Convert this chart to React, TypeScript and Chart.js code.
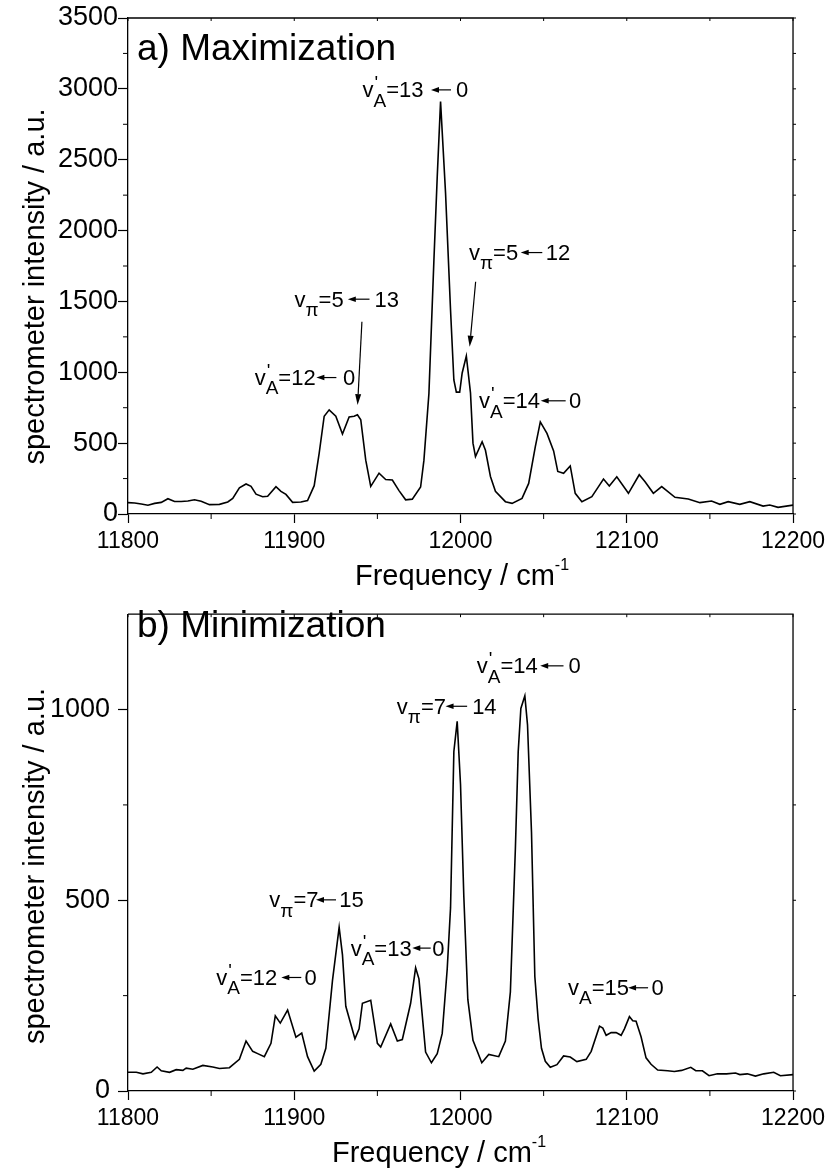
import React, { useEffect, useRef } from "react";
import { Chart, registerables } from "chart.js";

Chart.register(...registerables);

const FONT = "'Liberation Sans', Arial, Helvetica, sans-serif";

// ---------- data: panel a (maximization) ----------
const freqA = [11800, 11804, 11808, 11812, 11816, 11820, 11824, 11828, 11832, 11836, 11840, 11844, 11849, 11855, 11860, 11863, 11867, 11871, 11874, 11877, 11881, 11884, 11889, 11892, 11895, 11899, 11904, 11908, 11912, 11915, 11918, 11921, 11925, 11929, 11933, 11936, 11938, 11940, 11943, 11946, 11951, 11955, 11959, 11963, 11967, 11971, 11976, 11978, 11981, 11984, 11986, 11988, 11991, 11994, 11996, 11997.5, 11999.5, 12001, 12003.5, 12006, 12007.5, 12009, 12013, 12015, 12018, 12021, 12027, 12031, 12037, 12041, 12045, 12048, 12052, 12056, 12058.5, 12062, 12066, 12069, 12073, 12079, 12083, 12086, 12089.5, 12094, 12101, 12107.5, 12111, 12116, 12121, 12129, 12137, 12144, 12151, 12156, 12161, 12168, 12174, 12182, 12186, 12191, 12200];
const intensityA = [80, 78, 70, 62, 75, 82, 108, 88, 88, 92, 100, 90, 66, 68, 85, 110, 185, 212, 195, 140, 122, 125, 193, 160, 138, 82, 85, 95, 200, 430, 690, 735, 690, 565, 685, 690, 700, 665, 380, 195, 288, 243, 240, 165, 100, 105, 190, 380, 850, 1790, 2380, 2910, 2265, 1440, 946, 860, 860, 995, 1115, 855, 500, 405, 510, 450, 265, 160, 87, 75, 110, 216, 475, 650, 569, 445, 300, 287, 339, 146, 87, 122, 193, 247, 198, 263, 146, 277, 228, 146, 193, 118, 106, 80, 92, 68, 87, 68, 87, 56, 63, 47, 63];

// ---------- data: panel b (minimization) ----------
const freqB = [11800, 11805, 11809, 11814, 11817.5, 11820, 11825, 11829, 11833, 11835, 11839, 11845, 11851, 11855, 11861, 11867, 11871, 11875, 11878, 11882, 11886, 11888.6, 11891.6, 11896, 11901, 11904.5, 11908, 11912, 11916, 11919, 11923, 11927, 11929, 11931, 11936.5, 11939, 11941, 11946, 11950, 11952, 11958, 11962, 11965, 11970, 11973, 11975, 11979, 11982.5, 11986, 11989, 11992, 11994, 11996, 11998, 12000, 12002, 12004.4, 12007.5, 12012.8, 12017, 12023, 12027, 12030, 12033, 12034.7, 12036.3, 12038.7, 12040.3, 12042.7, 12044.7, 12046.7, 12048.7, 12051, 12054, 12058, 12062, 12066, 12070, 12075.6, 12078.6, 12083.6, 12085.6, 12087.6, 12090.6, 12093.6, 12096.6, 12098.6, 12101.6, 12103.6, 12105.6, 12108.6, 12111.6, 12114.6, 12118.6, 12124.6, 12128.6, 12133, 12138.5, 12141.5, 12145.5, 12149.5, 12154.5, 12160, 12165.4, 12168, 12172.5, 12177.4, 12182.4, 12188.4, 12192.4, 12200];
const intensityB = [49, 49, 45, 49, 63, 53, 49, 56, 54, 60, 57, 67, 63, 59, 61, 83, 131, 104, 98, 90, 125, 197, 178, 212, 141, 152, 90, 52, 70, 112, 290, 429, 357, 222, 137, 163, 230, 238, 125, 115, 176, 131, 135, 230, 323, 294, 102, 74, 98, 151, 320, 480, 890, 969, 804, 509, 240, 133, 74, 96, 90, 131, 260, 635, 889, 1003, 1036, 960, 678, 300, 188, 112, 78, 62, 69, 92, 89, 77, 83, 104, 170, 165, 146, 153, 153, 146, 163, 195, 184, 183, 142, 87, 70, 55, 53, 51, 54, 62, 53, 53, 40, 45, 45, 47, 43, 45, 39, 45, 49, 40, 43];

// ---------- ticks ----------
const xTickValues = [11800, 11900, 12000, 12100, 12200];
const xMinorTicks = [11850, 11950, 12050, 12150];
const yTicksA = [0, 500, 1000, 1500, 2000, 2500, 3000, 3500];
const yMinorA = [250, 750, 1250, 1750, 2250, 2750, 3250];
const yTicksB = [0, 500, 1000];
const yMinorB = [250, 750];

// ---------- annotations (anchor in data coords; a0/a1/t are px offsets from anchor) ----------
type Ann = { x: number; y: number; sub: string; prime: boolean; rest: string; tail: string; a0: number; a1: number; t: number };
type Pointer = { x0: number; y0: number; x1: number; y1: number };

const annotationsA: Ann[] = [
  { x: 11941.1, y: 2940, sub: "A", prime: true, rest: "=13", tail: "0", a0: 68.4, a1: 88.4, t: 93.4 },
  { x: 12005.1, y: 1792, sub: "π", prime: false, rest: "=5", tail: "12", a0: 51.7, a1: 73.3, t: 76.7 },
  { x: 11900.15, y: 1463, sub: "π", prime: false, rest: "=5", tail: "13", a0: 53.3, a1: 75, t: 80 },
  { x: 11876.2, y: 910, sub: "A", prime: true, rest: "=12", tail: "0", a0: 61.7, a1: 81.7, t: 88.3 },
  { x: 12011.1, y: 746, sub: "A", prime: true, rest: "=14", tail: "0", a0: 61.7, a1: 86.7, t: 90 },
];
const pointersA: Pointer[] = [
  { x0: 11940.7, y0: 1357, x1: 11938.1, y1: 769 },
  { x0: 12009.1, y0: 1639, x1: 12005.5, y1: 1180 },
];
const annotationsB: Ann[] = [
  { x: 12009.8, y: 1095, sub: "A", prime: true, rest: "=14", tail: "0", a0: 63.4, a1: 86.7, t: 91.7 },
  { x: 11961.7, y: 989, sub: "π", prime: false, rest: "=7", tail: "14", a0: 48.7, a1: 70.3, t: 75.3 },
  { x: 11885.0, y: 481.5, sub: "π", prime: false, rest: "=7", tail: "15", a0: 46.7, a1: 66.7, t: 70 },
  { x: 11933.95, y: 355, sub: "A", prime: true, rest: "=13", tail: "0", a0: 61.6, a1: 80, t: 81.6 },
  { x: 11853.1, y: 278, sub: "A", prime: true, rest: "=12", tail: "0", a0: 65, a1: 85, t: 88.3 },
  { x: 12064.7, y: 251, sub: "A", prime: false, rest: "=15", tail: "0", a0: 60, a1: 80, t: 83.3 },
];
const pointersB: Pointer[] = [];

type Panel = {
  height: number; yMax: number; yTicks: number[]; yMinor: number[];
  padTop: number; padRight: number; xAxisH: number; yLabelPad: number;
  title: string; titleX: number; titleY: number;
  yTitleX: number; yTitleY: number; xTitleX: number; xTitleY: number;
  freq: number[]; intensity: number[]; anns: Ann[]; pointers: Pointer[];
};

const panelA: Panel = {
  height: 590, yMax: 3500, yTicks: yTicksA, yMinor: yMinorA,
  padTop: 18, padRight: 35, xAxisH: 76, yLabelPad: 0,
  title: "a) Maximization", titleX: 137, titleY: 60,
  yTitleX: 44, yTitleY: 286.5, xTitleX: 355, xTitleY: 585,
  freq: freqA, intensity: intensityA, anns: annotationsA, pointers: pointersA,
};
const panelB: Panel = {
  height: 579, yMax: 1250, yTicks: yTicksB, yMinor: yMinorB,
  padTop: 7, padRight: 34, xAxisH: 78, yLabelPad: 8,
  title: "b) Minimization", titleX: 137, titleY: 46.7,
  yTitleX: 44, yTitleY: 276, xTitleX: 332, xTitleY: 571.7,
  freq: freqB, intensity: intensityB, anns: annotationsB, pointers: pointersB,
};

const ANN_FONT = 22;

function drawSmallArrow(ctx: CanvasRenderingContext2D, x0: number, x1: number, y: number) {
  ctx.beginPath();
  ctx.moveTo(x0 + 5, y);
  ctx.lineTo(x1, y);
  ctx.lineWidth = 1.2;
  ctx.stroke();
  ctx.beginPath();
  ctx.moveTo(x0, y);
  ctx.lineTo(x0 + 8, y - 2.8);
  ctx.lineTo(x0 + 8, y + 2.8);
  ctx.closePath();
  ctx.fill();
}

function drawPointer(ctx: CanvasRenderingContext2D, x0: number, y0: number, x1: number, y1: number) {
  const ang = Math.atan2(y1 - y0, x1 - x0);
  const hl = 11, hw = 3;
  const bx = x1 - hl * Math.cos(ang), by = y1 - hl * Math.sin(ang);
  ctx.beginPath();
  ctx.moveTo(x0, y0);
  ctx.lineTo(bx, by);
  ctx.lineWidth = 1.2;
  ctx.stroke();
  ctx.beginPath();
  ctx.moveTo(x1, y1);
  ctx.lineTo(bx + hw * Math.sin(ang), by - hw * Math.cos(ang));
  ctx.lineTo(bx - hw * Math.sin(ang), by + hw * Math.cos(ang));
  ctx.closePath();
  ctx.fill();
}

function drawAnnotation(ctx: CanvasRenderingContext2D, px: number, py: number, a: Ann) {
  const F = ANN_FONT;
  const main = `${F}px ${FONT}`;
  const subF = Math.round(F * 0.85);
  ctx.textAlign = "left";
  ctx.textBaseline = "alphabetic";
  ctx.font = main;
  let cx = px;
  ctx.fillText("v", cx, py);
  cx += ctx.measureText("v").width;
  ctx.font = `${subF}px ${FONT}`;
  ctx.fillText(a.sub, cx, py + F * 0.42);
  if (a.prime) ctx.fillText("'", cx + 1, py - 8);
  cx += ctx.measureText(a.sub).width;
  ctx.font = main;
  ctx.fillText(a.rest, cx, py);
  drawSmallArrow(ctx, px + a.a0, px + a.a1, py - F * 0.34);
  ctx.fillText(a.tail, px + a.t, py);
}

function makeDecor(p: Panel) {
  return {
    id: "decor",
    afterDraw(chart: any) {
      const ctx: CanvasRenderingContext2D = chart.ctx;
      const ca = chart.chartArea;
      const xs = chart.scales.x;
      const ys = chart.scales.y;
      ctx.save();
      ctx.strokeStyle = "#000";
      ctx.fillStyle = "#000";
      // top & right frame
      ctx.lineWidth = 1.3;
      ctx.beginPath();
      ctx.moveTo(ca.left, ca.top);
      ctx.lineTo(ca.right, ca.top);
      ctx.lineTo(ca.right, ca.bottom);
      ctx.stroke();
      // minor ticks + mirrored ticks
      ctx.lineWidth = 1;
      ctx.beginPath();
      for (const v of xMinorTicks) {
        const x = xs.getPixelForValue(v);
        ctx.moveTo(x, ca.bottom);
        ctx.lineTo(x, ca.bottom + 5);
      }
      for (const v of p.yMinor) {
        const y = ys.getPixelForValue(v);
        ctx.moveTo(ca.left, y);
        ctx.lineTo(ca.left - 5, y);
      }
      for (const v of [...xTickValues, ...xMinorTicks]) {
        const x = xs.getPixelForValue(v);
        ctx.moveTo(x, ca.top);
        ctx.lineTo(x, ca.top + 3);
      }
      for (const v of [...p.yTicks, ...p.yMinor]) {
        const y = ys.getPixelForValue(v);
        ctx.moveTo(ca.right, y);
        ctx.lineTo(ca.right + 3, y);
      }
      ctx.stroke();

      // panel title
      ctx.textAlign = "left";
      ctx.textBaseline = "alphabetic";
      ctx.font = `37px ${FONT}`;
      ctx.fillText(p.title, p.titleX, p.titleY);

      // x-axis title with superscript
      ctx.font = `29px ${FONT}`;
      const base = "Frequency / cm";
      ctx.fillText(base, p.xTitleX, p.xTitleY);
      const w = ctx.measureText(base).width;
      ctx.font = `16px ${FONT}`;
      ctx.fillText("-1", p.xTitleX + w, p.xTitleY - 15);

      // y-axis title
      ctx.save();
      ctx.translate(p.yTitleX, p.yTitleY);
      ctx.rotate(-Math.PI / 2);
      ctx.textAlign = "center";
      ctx.font = `29px ${FONT}`;
      ctx.fillText("spectrometer intensity / a.u.", 0, 0);
      ctx.restore();

      // annotations
      for (const a of p.anns) {
        drawAnnotation(ctx, xs.getPixelForValue(a.x), ys.getPixelForValue(a.y), a);
      }
      for (const q of p.pointers) {
        drawPointer(ctx, xs.getPixelForValue(q.x0), ys.getPixelForValue(q.y0), xs.getPixelForValue(q.x1), ys.getPixelForValue(q.y1));
      }
      ctx.restore();
    },
  };
}

function SpectrumPanel({ p, top }: { p: Panel; top: number }) {
  const ref = useRef<HTMLCanvasElement | null>(null);
  useEffect(() => {
    if (!ref.current) return;
    const points = p.freq.map((f, i) => ({ x: f, y: p.intensity[i] }));
    const chart = new Chart(ref.current, {
      type: "line",
      data: {
        datasets: [
          {
            data: points,
            borderColor: "#000",
            borderWidth: 1.6,
            pointRadius: 0,
            tension: 0,
            fill: false,
          },
        ],
      },
      options: {
        responsive: false,
        animation: false,
        layout: { padding: { left: 0, right: p.padRight, top: p.padTop, bottom: 0 } },
        plugins: { legend: { display: false }, tooltip: { enabled: false }, title: { display: false } },
        scales: {
          x: {
            type: "linear",
            position: "bottom",
            min: 11800,
            max: 12200,
            afterBuildTicks: (s: any) => {
              s.ticks = xTickValues.map((v) => ({ value: v }));
            },
            afterFit: (s: any) => {
              s.height = p.xAxisH;
            },
            ticks: {
              font: { family: FONT, size: 23 },
              color: "#000",
              padding: 5,
              maxRotation: 0,
              autoSkip: false,
              callback: (v: any) => String(v),
            },
            grid: { display: true, drawOnChartArea: false, drawTicks: true, tickLength: 9, color: "#000", tickWidth: 1.2 },
            border: { display: true, color: "#000", width: 1.3 },
          },
          y: {
            type: "linear",
            position: "left",
            min: 0,
            max: p.yMax,
            afterBuildTicks: (s: any) => {
              s.ticks = p.yTicks.map((v) => ({ value: v }));
            },
            afterFit: (s: any) => {
              s.width = 128;
            },
            ticks: {
              font: { family: FONT, size: 27 },
              color: "#000",
              padding: p.yLabelPad,
              autoSkip: false,
              callback: (v: any) => String(v),
            },
            grid: { display: true, drawOnChartArea: false, drawTicks: true, tickLength: 10, color: "#000", tickWidth: 1.2 },
            border: { display: true, color: "#000", width: 1.3 },
          },
        },
      },
      plugins: [makeDecor(p)],
    } as any);
    return () => chart.destroy();
  }, [p]);
  return (
    <canvas
      ref={ref}
      width={830}
      height={p.height}
      style={{ position: "absolute", left: 0, top, width: 830, height: p.height, display: "block" }}
    />
  );
}

export default function App() {
  return (
    <div style={{ position: "absolute", left: 0, top: 0, width: 830, height: 1169, background: "#fff" }}>
      <SpectrumPanel p={panelA} top={0} />
      <SpectrumPanel p={panelB} top={590} />
    </div>
  );
}
